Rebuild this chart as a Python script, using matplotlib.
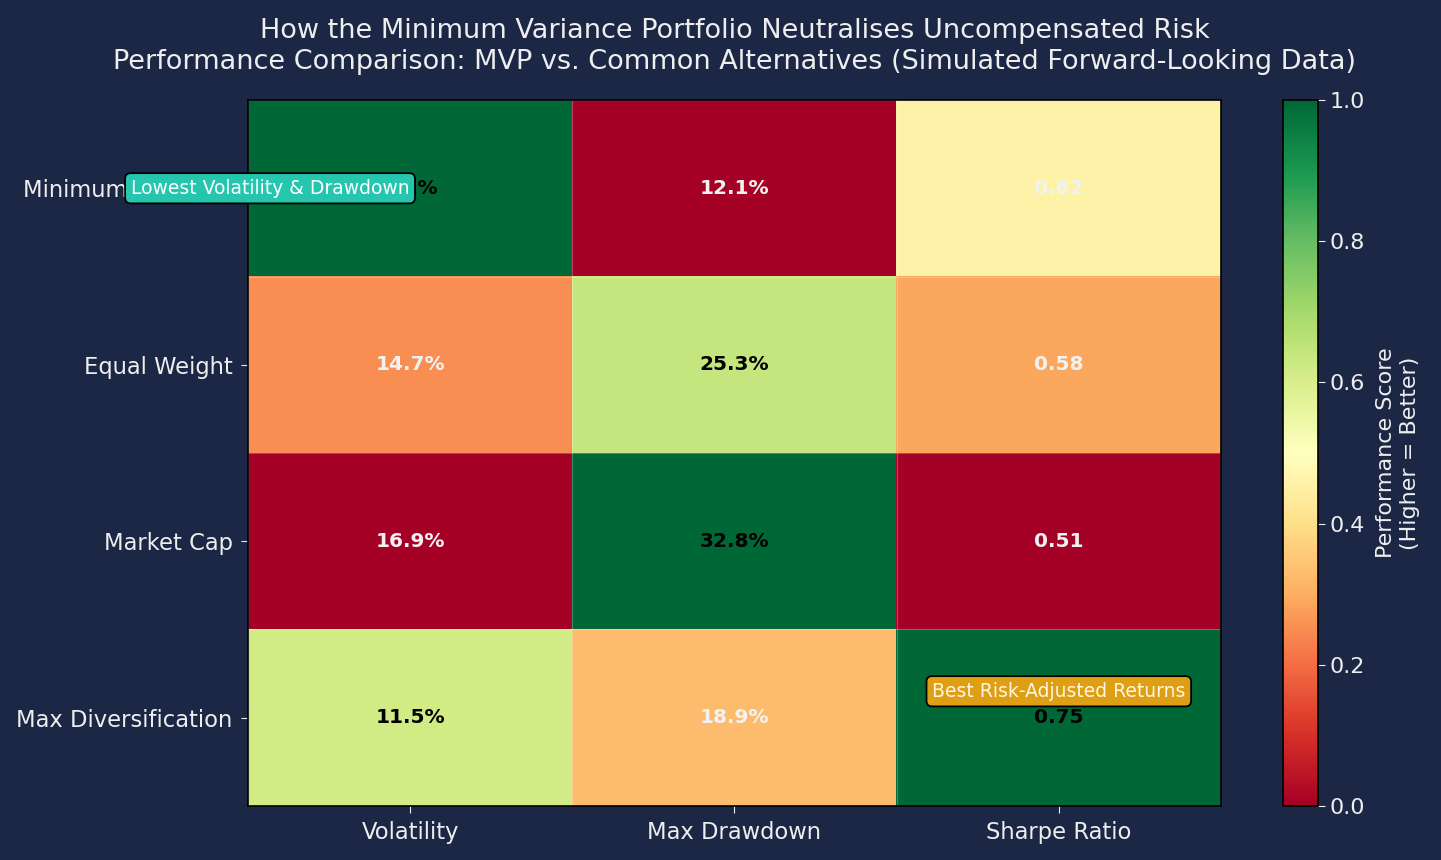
import numpy as np
import matplotlib
matplotlib.use("Agg")
import matplotlib.pyplot as plt

strategies = ["Minimum Variance", "Equal Weight", "Market Cap", "Max Diversification"]
metrics = ["Volatility", "Max Drawdown", "Sharpe Ratio"]

volatility = [8.1, 14.7, 16.9, 11.5]
max_drawdown = [12.1, 25.3, 32.8, 18.9]
sharpe = [0.62, 0.58, 0.51, 0.75]

bg = "#1b2745"
fg = "#eeeeee"


def minmax(v, invert=False):
    v = np.asarray(v, dtype=float)
    s = (v - v.min()) / (v.max() - v.min())
    return 1 - s if invert else s


scores = np.column_stack([
    minmax(volatility, invert=True),
    minmax(max_drawdown),
    minmax(sharpe),
])
labels = [[f"{volatility[i]:.1f}%", f"{max_drawdown[i]:.1f}%", f"{sharpe[i]:.2f}"]
          for i in range(len(strategies))]

fig = plt.figure(figsize=(14.41, 8.6), dpi=100, facecolor=bg)
ax = fig.add_axes([0.1721, 0.0628, 0.6752, 0.8209])
cax = fig.add_axes([0.8904, 0.0628, 0.0243, 0.8209])
ax.set_facecolor(bg)

im = ax.imshow(scores, cmap="RdYlGn", vmin=0, vmax=1, aspect="auto")

ax.set_xticks(range(len(metrics)))
ax.set_xticklabels(metrics, fontsize=16.3, color=fg)
ax.set_yticks(range(len(strategies)))
ax.set_yticklabels(strategies, fontsize=16.3, color=fg)
ax.tick_params(colors=fg, length=5, pad=6)

ax.set_xticks(np.arange(-0.5, len(metrics), 1), minor=True)
ax.set_yticks(np.arange(-0.5, len(strategies), 1), minor=True)
ax.grid(which="minor", color="white", alpha=0.25, linewidth=0.8)
ax.tick_params(which="minor", length=0)
for sp in ax.spines.values():
    sp.set_color("black")
    sp.set_linewidth(1.2)

for i in range(len(strategies)):
    for j in range(len(metrics)):
        c = "black" if scores[i, j] >= 0.5 else "#f2f2f2"
        ax.text(j, i, labels[i][j], ha="center", va="center",
                fontsize=14.5, fontweight="bold", color=c)

ax.set_title("How the Minimum Variance Portfolio Neutralises Uncompensated Risk\n"
             "Performance Comparison: MVP vs. Common Alternatives (Simulated Forward-Looking Data)",
             fontsize=19.5, color=fg, pad=22, linespacing=1.25)

ax.text(-0.432, 0, "Lowest Volatility & Drawdown", ha="center", va="center",
        fontsize=13.5, color="white",
        bbox=dict(boxstyle="round,pad=0.3", facecolor="#26c5ad", edgecolor="black", linewidth=1.3))
ax.text(2.0, 2.85, "Best Risk-Adjusted Returns", ha="center", va="center",
        fontsize=13.5, color="#fff6e0",
        bbox=dict(boxstyle="round,pad=0.3", facecolor="#df9f15", edgecolor="black", linewidth=1.3))

cb = fig.colorbar(im, cax=cax)
cb.set_label("Performance Score\n(Higher = Better)", fontsize=16, color=fg, labelpad=8)
cb.ax.tick_params(colors=fg, labelsize=16, length=5)
cb.outline.set_edgecolor("black")
cb.outline.set_linewidth(1.2)
for t in cb.ax.get_yticklabels():
    t.set_color(fg)

fig.savefig("out.png", dpi=100, facecolor=bg)
